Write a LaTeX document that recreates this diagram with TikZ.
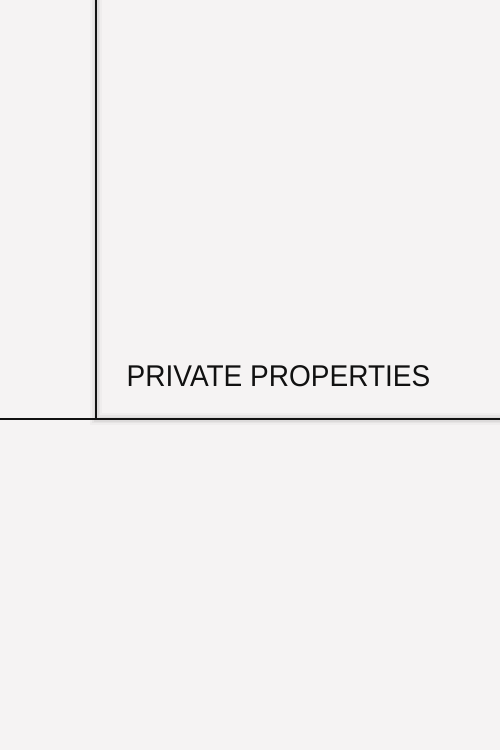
\documentclass[tikz,border=0pt]{standalone}
\usepackage{fontspec}
\setmainfont{Liberation Sans}
\definecolor{bg}{HTML}{F5F3F3}
\definecolor{ink}{HTML}{111111}
\tikzset{
  rule/.style={draw=ink, line width=2pt},
  title/.style={font=\fontsize{30}{34}\selectfont, text=ink, inner sep=0pt, anchor=center, xscale=0.934},
}
\begin{document}
\begin{tikzpicture}[x=1pt,y=-1pt]
  \fill[bg] (0,0) rectangle (500,750);
  \useasboundingbox (0,0) rectangle (500,750);
  % soft shadows
  \foreach \w/\o in {12/0.025,8/0.035,5/0.045}{
    \draw[black, opacity=\o, line width=\w pt] (96,0) -- (96,419) -- (500,419);
  }
  \coordinate (vtop) at (96,0);
  \coordinate (corner) at (96,419);
  \coordinate (left) at (0,419);
  \coordinate (right) at (500,419);
  \draw[rule] (vtop) -- (corner);
  \draw[rule] (left) -- (right);
  \node[title] (t) at (278.5,376) {PRIVATE PROPERTIES};
\end{tikzpicture}
\end{document}
